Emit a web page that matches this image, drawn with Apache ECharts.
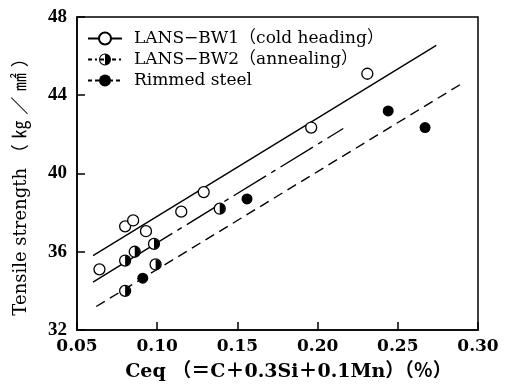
<!DOCTYPE html>
<html>
<head>
<meta charset="utf-8">
<script src="https://cdn.jsdelivr.net/npm/echarts@6/dist/echarts.min.js"></script>
<style>
  html, body { margin: 0; padding: 0; background: #fff; }
  #chart { width: 510px; height: 387px; }
</style>
</head>
<body>
<div id="chart"></div>
<script>
// measured points, Ceq (%) vs tensile strength (kg/mm2)
const bw1X = [0.064, 0.080, 0.085, 0.093, 0.115, 0.129, 0.196, 0.231];
const bw1Y = [35.1, 37.3, 37.6, 37.05, 38.05, 39.05, 42.35, 45.1];
const bw2X = [0.080, 0.086, 0.098, 0.099, 0.080, 0.139];
const bw2Y = [35.55, 36.0, 36.4, 35.35, 34.0, 38.2];
const rimX = [0.091, 0.156, 0.244, 0.267];
const rimY = [34.65, 38.7, 43.2, 42.35];

// regression lines (end points)
const bw1FitX = [0.060, 0.274];
const bw1FitY = [35.8, 46.55];
const bw2FitX = [0.060, 0.216];
const bw2FitY = [34.45, 42.3];
const rimFitX = [0.062, 0.289];
const rimFitY = [33.2, 44.55];

const xTicks = [0.05, 0.10, 0.15, 0.20, 0.25, 0.30];
const yTicks = [32, 36, 40, 44, 48];

const names = [
  "LANS−BW1（cold heading）",
  "LANS−BW2（annealing）",
  "Rimmed steel",
];

const serif = "'DejaVu Serif', 'Noto Sans CJK JP', serif";
const zip = (xs, ys) => xs.map((x, i) => [x, ys[i]]);

// ring + right half disc, one path
const halfRing =
  "path://M10 0A10 10 0 1 1 10 20A10 10 0 1 1 10 0Z" +
  "M10 1.8A8.2 8.2 0 1 0 10 18.2A8.2 8.2 0 1 0 10 1.8Z" +
  "M10 1.8A8.2 8.2 0 0 1 10 18.2Z";
const halfDisc = "path://M0 0A10 10 0 0 1 0 20Z";

const markSize = 11;
const openStyle = { color: "#fff", borderColor: "#000", borderWidth: 1.3, opacity: 1 };
const fullStyle = { color: "#000", opacity: 1 };

const chart = echarts.init(document.getElementById("chart"));
chart.setOption({
  animation: false,
  backgroundColor: "#fff",
  grid: {
    left: 77, right: 32, top: 17, bottom: 54,
    show: true, borderColor: "#000", borderWidth: 1.5,
  },
  legend: {
    orient: "vertical",
    left: 87,
    top: 30,
    padding: 0,
    itemWidth: 34,
    itemHeight: 15,
    itemGap: 4,
    selectedMode: false,
    textStyle: { fontFamily: serif, fontSize: 17, color: "#000", padding: [0, 0, 0, 7] },
    data: [
      { name: names[0] },
      { name: names[1], lineStyle: { type: [4, 3, 2, 3] } },
      { name: names[2], lineStyle: { type: [4, 3] } },
    ],
  },
  xAxis: {
    type: "value",
    min: xTicks[0],
    max: xTicks[xTicks.length - 1],
    interval: 0.05,
    name: "Ceq （＝C＋0.3Si＋0.1Mn）（％）",
    nameLocation: "middle",
    nameGap: 33,
    nameTextStyle: { fontFamily: serif, fontSize: 19, fontWeight: "bold", color: "#000", padding: [0, 0, 0, 22] },
    axisLine: { lineStyle: { color: "#000", width: 1.5 } },
    axisTick: { inside: true, length: 8, lineStyle: { color: "#000", width: 1.5 } },
    splitLine: { show: false },
    axisLabel: {
      margin: 8,
      fontFamily: serif, fontSize: 17, fontWeight: "bold", color: "#000",
      formatter: (v) => v.toFixed(2),
    },
  },
  yAxis: {
    type: "value",
    min: yTicks[0],
    max: yTicks[yTicks.length - 1],
    interval: 4,
    name: "Tensile strength （ ㎏ ／ ㎟ ）",
    nameLocation: "middle",
    nameGap: 47,
    nameTextStyle: { fontFamily: serif, fontSize: 18, color: "#000", padding: [0, 18, 0, 0] },
    axisLine: { lineStyle: { color: "#000", width: 1.5 } },
    axisTick: { inside: true, length: 8, lineStyle: { color: "#000", width: 1.5 } },
    splitLine: { show: false },
    axisLabel: {
      margin: 10,
      fontFamily: "'Liberation Serif', serif", fontSize: 19, fontWeight: "bold", color: "#000",
    },
  },
  series: [
    {
      name: names[0], type: "line", data: zip(bw1FitX, bw1FitY),
      showSymbol: false, symbol: "circle", symbolSize: markSize,
      itemStyle: openStyle,
      lineStyle: { color: "#000", width: 1.4 },
      z: 2,
    },
    {
      name: names[1], type: "line", data: zip(bw2FitX, bw2FitY),
      showSymbol: false, symbol: halfRing, symbolSize: markSize,
      itemStyle: fullStyle,
      lineStyle: { color: "#000", width: 1.4, type: [38, 6, 5, 6] },
      z: 2,
    },
    {
      name: names[2], type: "line", data: zip(rimFitX, rimFitY),
      showSymbol: false, symbol: "circle", symbolSize: markSize,
      itemStyle: fullStyle,
      lineStyle: { color: "#000", width: 1.4, type: [10, 6] },
      z: 2,
    },
    {
      name: names[0], type: "scatter", data: zip(bw1X, bw1Y),
      symbol: "circle", symbolSize: markSize, itemStyle: openStyle, z: 5,
    },
    {
      name: names[1], type: "scatter", data: zip(bw2X, bw2Y),
      symbol: "circle", symbolSize: markSize, itemStyle: openStyle, z: 5,
    },
    {
      name: "bw2-half", type: "scatter", data: zip(bw2X, bw2Y),
      symbol: halfDisc, symbolSize: [markSize / 2 - 0.3, markSize - 0.6],
      symbolOffset: ["50%", 0],
      itemStyle: fullStyle, z: 6,
    },
    {
      name: names[2], type: "scatter", data: zip(rimX, rimY),
      symbol: "circle", symbolSize: markSize, itemStyle: fullStyle, z: 5,
    },
  ],
});
</script>
</body>
</html>
